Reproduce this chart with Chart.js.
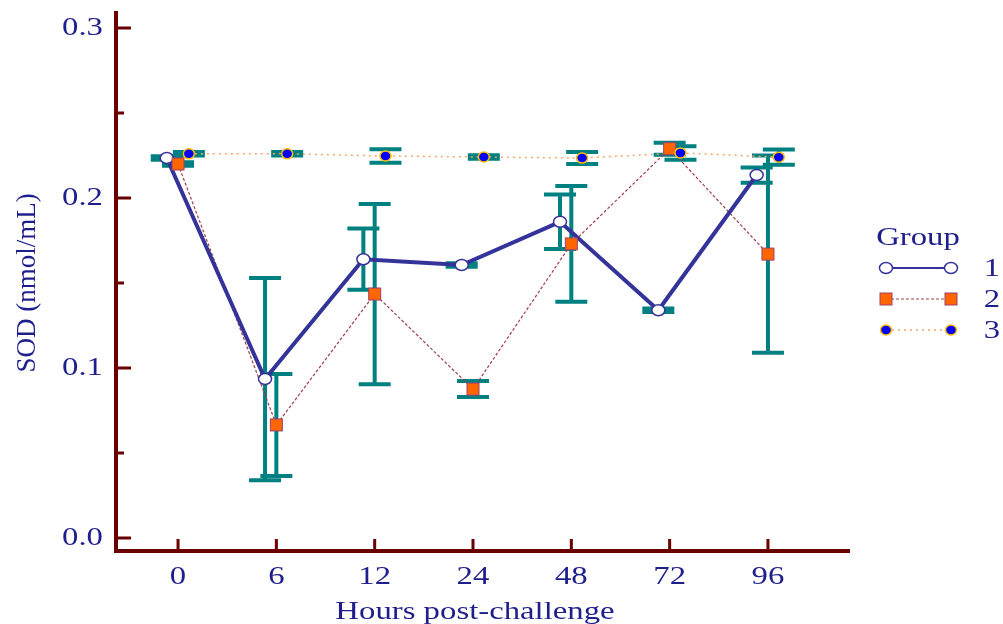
<!DOCTYPE html>
<html>
<head>
<meta charset="utf-8">
<script src="https://cdn.jsdelivr.net/npm/chart.js@4.4.0/dist/chart.umd.min.js"></script>
<style>
  body { margin: 0; background: #fff; }
  #wrap { width: 1003px; height: 624px; }
</style>
</head>
<body>
<div id="wrap"><canvas id="sodChart" width="1003" height="624"></canvas></div>
<script>
// hours post-challenge (category positions 0..6 on the x scale)
const hours = ["0", "6", "12", "24", "48", "72", "96"];

const g1Mean = [0.2235, 0.0935, 0.164, 0.1606, 0.186, 0.134, 0.2135];
const g1Err  = [0.001, 0.0595, 0.018, 0.001, 0.016, 0.001, 0.0045];
const g2Mean = [0.220, 0.0665, 0.1435, 0.0876, 0.173, 0.229, 0.167];
const g2Err  = [0.001, 0.030, 0.053, 0.0047, 0.034, 0.0035, 0.058];
const g3Mean = [0.226, 0.226, 0.2247, 0.2241, 0.2235, 0.2265, 0.224];
const g3Err  = [0.001, 0.001, 0.004, 0.001, 0.0035, 0.004, 0.0045];

const yMajor = [0, 0.1, 0.2, 0.3];
const yMinor = [0.05, 0.15, 0.25];
const groupNames = ["1", "2", "3"];

const navy = "#1e1e8c";
const axisColor = "#6b0000";
const teal = "#008080";
const SX = 1.26; // the original picture is stretched sideways

function points(means, shift) {
    return means.map((v, i) => ({x: i + shift, y: v}));
}

function stretchedText(ctx, str, x, y, align, baseline) {
    ctx.save();
    ctx.translate(x, y);
    ctx.scale(SX, 1);
    ctx.textAlign = align;
    ctx.textBaseline = baseline;
    ctx.fillText(str, 0, 0);
    ctx.restore();
}

function marker(ctx, kind, x, y) {
    ctx.save();
    ctx.setLineDash([]);
    if (kind === 0) {
        ctx.beginPath();
        ctx.ellipse(x, y, 6.5, 5.5, 0, 0, Math.PI * 2);
        ctx.fillStyle = "#fff";
        ctx.fill();
        ctx.lineWidth = 1.5;
        ctx.strokeStyle = "#333399";
        ctx.stroke();
    } else if (kind === 1) {
        ctx.fillStyle = "#ff6600";
        ctx.fillRect(x - 6, y - 6, 12, 12);
        ctx.lineWidth = 1;
        ctx.strokeStyle = "#a04070";
        ctx.strokeRect(x - 6, y - 6, 12, 12);
    } else {
        ctx.beginPath();
        ctx.ellipse(x, y, 5.5, 5, 0, 0, Math.PI * 2);
        ctx.fillStyle = "#0000ff";
        ctx.fill();
        ctx.lineWidth = 1.5;
        ctx.strokeStyle = "#ffc000";
        ctx.stroke();
    }
    ctx.restore();
}

const errorBars = {
    id: "errorBars",
    beforeDatasetsDraw(chart) {
        const ctx = chart.ctx;
        const xs = chart.scales.x, ys = chart.scales.y;
        const errs = [g1Err, g2Err, g3Err];
        ctx.save();
        ctx.strokeStyle = teal;
        ctx.lineWidth = 4;
        chart.data.datasets.forEach((ds, k) => {
            ds.data.forEach((p, i) => {
                const px = xs.getPixelForValue(p.x);
                const top = ys.getPixelForValue(p.y + errs[k][i]);
                const bot = ys.getPixelForValue(p.y - errs[k][i]);
                ctx.beginPath();
                ctx.moveTo(px, top); ctx.lineTo(px, bot);
                ctx.moveTo(px - 16, top); ctx.lineTo(px + 16, top);
                ctx.moveTo(px - 16, bot); ctx.lineTo(px + 16, bot);
                ctx.stroke();
            });
        });
        ctx.restore();
    }
};

const axesAndLegend = {
    id: "axesAndLegend",
    afterDraw(chart) {
        const ctx = chart.ctx;
        const xs = chart.scales.x, ys = chart.scales.y;
        const area = chart.chartArea;
        ctx.save();
        // axis lines
        ctx.strokeStyle = axisColor;
        ctx.lineWidth = 4;
        ctx.lineCap = "square";
        ctx.beginPath();
        ctx.moveTo(area.left, area.top);
        ctx.lineTo(area.left, area.bottom);
        ctx.lineTo(area.right, area.bottom);
        ctx.stroke();
        ctx.lineCap = "butt";
        ctx.lineWidth = 3;
        ctx.beginPath();
        yMajor.forEach(v => {
            const py = ys.getPixelForValue(v);
            ctx.moveTo(area.left, py); ctx.lineTo(area.left + 15, py);
        });
        yMinor.forEach(v => {
            const py = ys.getPixelForValue(v);
            ctx.moveTo(area.left, py); ctx.lineTo(area.left + 8, py);
        });
        hours.forEach((h, i) => {
            const px = xs.getPixelForValue(i);
            ctx.moveTo(px, area.bottom); ctx.lineTo(px, area.bottom - 12);
        });
        ctx.stroke();

        // tick labels
        ctx.fillStyle = navy;
        ctx.font = "26px 'Liberation Serif'";
        yMajor.forEach(v => {
            stretchedText(ctx, v.toFixed(1), area.left - 13, ys.getPixelForValue(v), "right", "middle");
        });
        hours.forEach((h, i) => {
            stretchedText(ctx, h, xs.getPixelForValue(i), 577, "center", "middle");
        });
        stretchedText(ctx, "Hours post-challenge", 475, 619, "center", "alphabetic");

        // y title
        ctx.save();
        ctx.translate(28, 283);
        ctx.rotate(-Math.PI / 2);
        ctx.font = "27px 'Liberation Serif'";
        ctx.textAlign = "center";
        ctx.textBaseline = "middle";
        ctx.fillText("SOD (nmol/mL)", 0, 0);
        ctx.restore();

        // legend
        ctx.font = "26px 'Liberation Serif'";
        stretchedText(ctx, "Group", 918, 245, "center", "alphabetic");
        chart.data.datasets.forEach((ds, k) => {
            const ly = 268 + k * 31;
            ctx.save();
            ctx.strokeStyle = ds.borderColor;
            ctx.lineWidth = k === 0 ? 2 : ds.borderWidth;
            ctx.setLineDash(ds.borderDash || []);
            ctx.beginPath();
            ctx.moveTo(886, ly); ctx.lineTo(951, ly);
            ctx.stroke();
            ctx.restore();
            marker(ctx, k, 886, ly);
            marker(ctx, k, 951, ly);
            stretchedText(ctx, groupNames[k], 992, ly + 1, "center", "middle");
        });
        ctx.restore();
    }
};

const drawMarkers = {
    id: "drawMarkers",
    afterDatasetsDraw(chart) {
        const ctx = chart.ctx;
        chart.data.datasets.forEach((ds, k) => {
            chart.getDatasetMeta(k).data.forEach(el => marker(ctx, k, el.x, el.y));
        });
    }
};

new Chart(document.getElementById("sodChart"), {
    type: "line",
    data: {
        datasets: [
            {label: "1", data: points(g1Mean, -0.115), borderColor: "#333399", borderWidth: 4, pointRadius: 0},
            {label: "2", data: points(g2Mean, 0), borderColor: "#a0404a", borderWidth: 1.2, borderDash: [3, 2], pointRadius: 0},
            {label: "3", data: points(g3Mean, 0.11), borderColor: "#f5a56a", borderWidth: 1.5, borderDash: [2, 4], pointRadius: 0}
        ]
    },
    options: {
        responsive: false,
        animation: false,
        layout: {padding: {left: 116, right: 155, top: 13, bottom: 73}},
        scales: {
            x: {type: "linear", min: -0.631, max: 6.814, display: false},
            y: {type: "linear", min: -0.00765, max: 0.30882, display: false}
        },
        plugins: {legend: {display: false}, tooltip: {enabled: false}}
    },
    plugins: [errorBars, drawMarkers, axesAndLegend]
});
</script>
</body>
</html>
